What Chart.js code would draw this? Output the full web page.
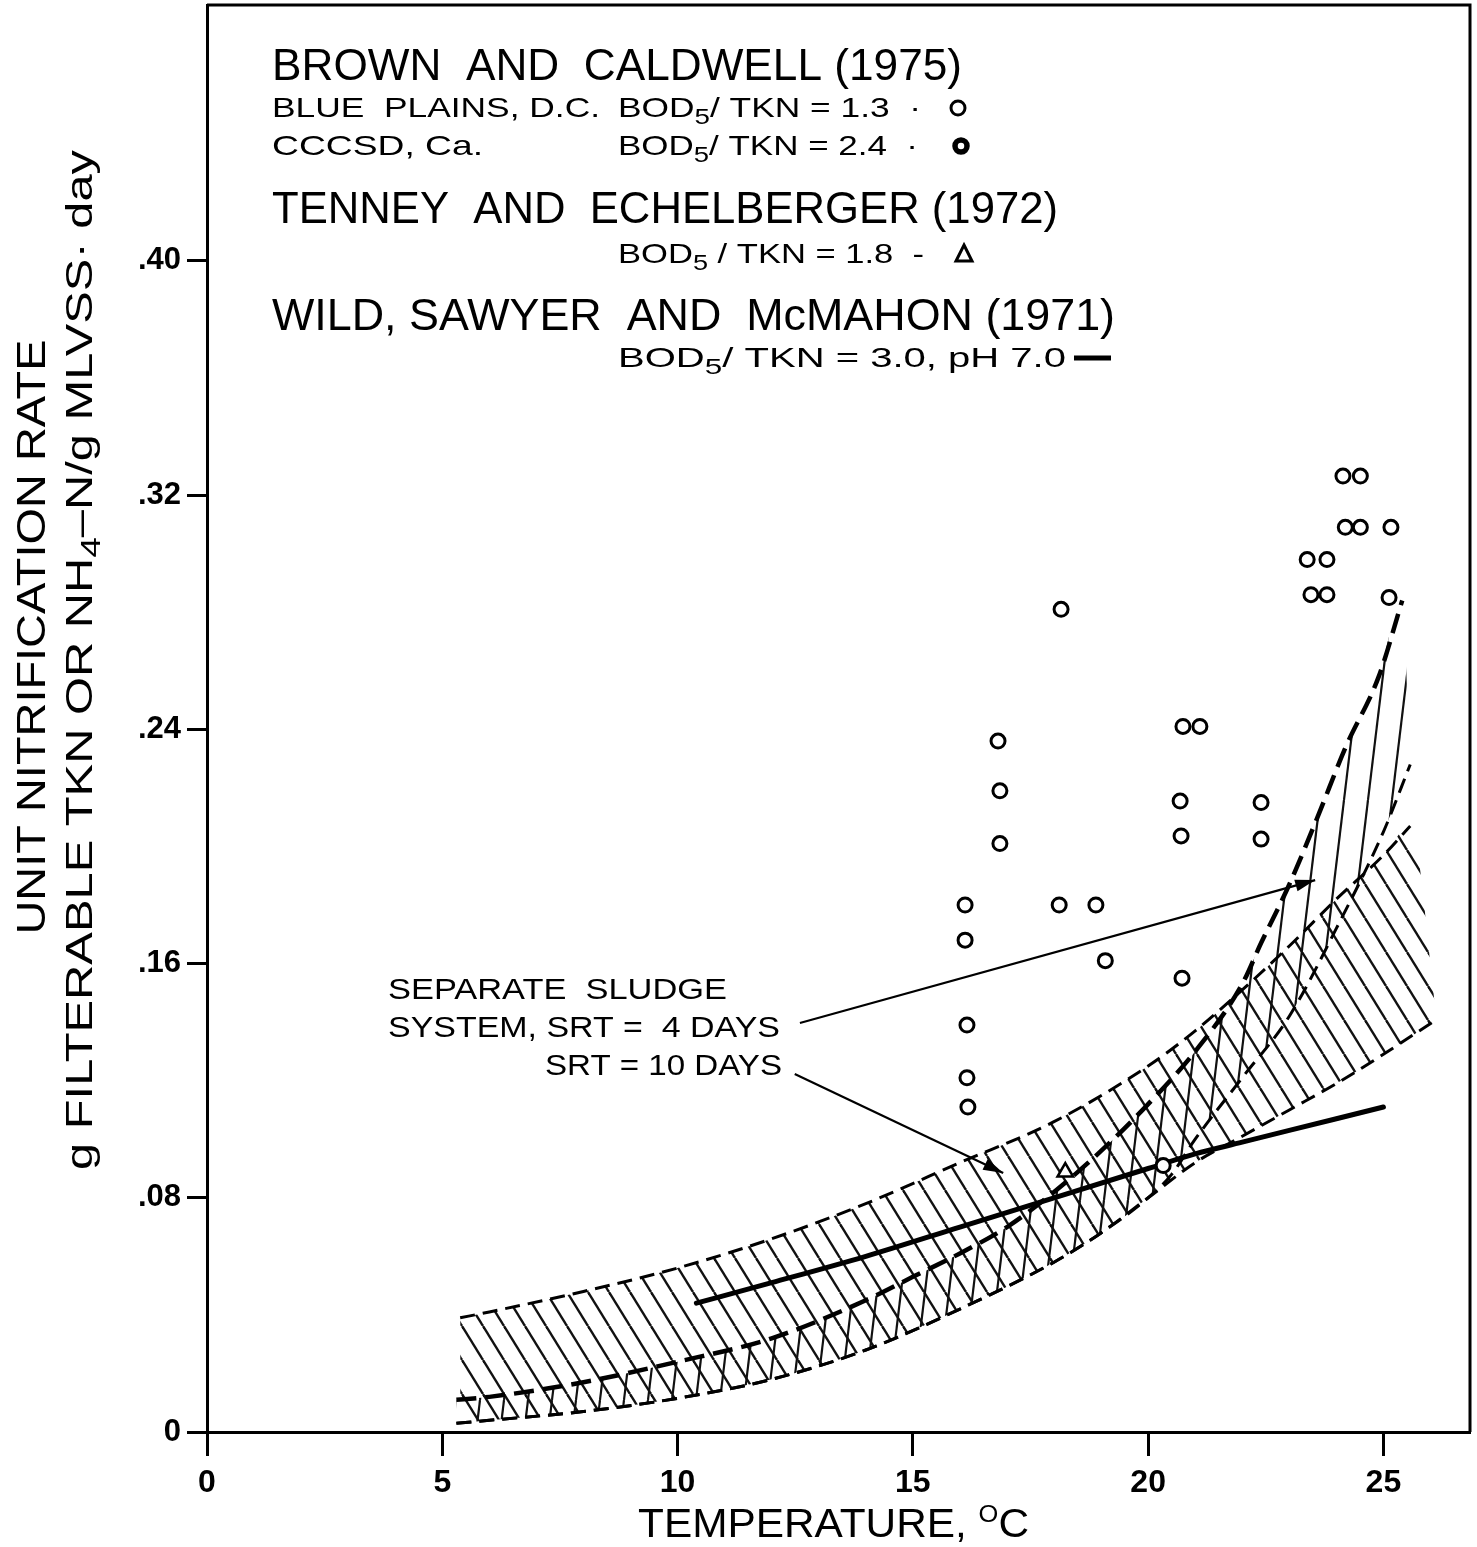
<!DOCTYPE html>
<html><head><meta charset="utf-8">
<script src="https://cdn.jsdelivr.net/npm/chart.js@4.4.1/dist/chart.umd.min.js"></script>
<style>html,body{margin:0;padding:0;background:#fff;}#wrap{width:1477px;height:1547px;position:relative;}</style>
</head><body><div id="wrap"><canvas id="c"></canvas></div>
<script>
// ---------- data ----------
const xTicks = [0, 5, 10, 15, 20, 25];
const yTicks = [0, 0.08, 0.16, 0.24, 0.32, 0.40];
const yTickLabels = ['0', '.08', '.16', '.24', '.32', '.40'];

// Brown and Caldwell (1975) – data points
const bluePlainsT    = [16.11,16.11,16.15,16.15,16.17,16.81,16.85,16.85,18.15,18.11,18.89,19.09,20.74,21.10,20.68,20.70,20.72,22.40,22.40,24.14,24.51,24.19,24.51,25.16,23.38,23.80,23.46,23.80,25.12,20.32];
const bluePlainsRate = [0.180,0.168,0.139,0.121,0.111,0.236,0.219,0.201,0.281,0.180,0.180,0.161,0.241,0.241,0.2155,0.2036,0.155,0.215,0.2025,0.3265,0.3265,0.309,0.309,0.309,0.298,0.298,0.286,0.286,0.285,0.091];

// Tenney and Echelberger (1972)
const tenneyT    = [18.24];
const tenneyRate = [0.0888];

// Wild, Sawyer and McMahon (1971)
const wildT    = [10.4, 12, 14, 16, 18, 20, 21, 22, 23, 24, 25];
const wildRate = [0.044, 0.051, 0.060, 0.070, 0.080, 0.090, 0.095, 0.099, 0.103, 0.107, 0.111];

// Separate sludge system, SRT = 10 days band
const srt10UpperT    = [5.38, 6, 8, 10, 12, 14, 16, 18, 20, 21, 22, 23, 24, 25, 25.57];
const srt10UpperRate = [0.039, 0.041, 0.048, 0.056, 0.066, 0.078, 0.092, 0.106, 0.125, 0.137, 0.151, 0.166, 0.182, 0.197, 0.207];
const srt10LowerT    = [5.3, 6, 8, 10, 12, 14, 16, 18, 19, 20, 21, 22, 23, 24, 25, 26.14];
const srt10LowerRate = [0.003, 0.004, 0.007, 0.0115, 0.018, 0.028, 0.042, 0.058, 0.068, 0.080, 0.092, 0.101, 0.110, 0.119, 0.129, 0.141];

// Separate sludge system, SRT = 4 days band
const srt4UpperT    = [5.3, 6, 8, 10, 12, 14, 15, 16, 17, 18, 19, 20, 21, 22, 22.4, 23, 23.6, 24.2, 24.9, 25.4];
const srt4UpperRate = [0.011, 0.012, 0.017, 0.024, 0.032, 0.045, 0.053, 0.061, 0.070, 0.082, 0.096, 0.112, 0.130, 0.153, 0.167, 0.187, 0.210, 0.234, 0.258, 0.284];
const srt4LowerT    = [5.3, 6, 8, 10, 12, 14, 16, 18, 19, 20, 20.5, 21, 22, 23, 24, 25, 25.57];
const srt4LowerRate = [0.003, 0.004, 0.007, 0.0115, 0.018, 0.028, 0.042, 0.058, 0.068, 0.080, 0.088, 0.100, 0.121, 0.142, 0.172, 0.205, 0.228];

// annotation pointers (data units)
const pointer4T     = [12.60, 23.55];
const pointer4Rate  = [0.1397, 0.1885];
const pointer10T    = [12.49, 16.92];
const pointer10Rate = [0.1223, 0.0885];

// ---------- helpers ----------
const FONT = '"Liberation Sans", Arial, Helvetica, sans-serif';
const pts = (t, v) => t.map((x, i) => ({x: x, y: v[i]}));

const canvas = document.getElementById('c');
const ctx0 = canvas.getContext('2d');
function hatch(w, h, dir, lw) {
  const c = document.createElement('canvas');
  c.width = w; c.height = h;
  const g = c.getContext('2d');
  g.strokeStyle = '#111'; g.lineWidth = lw;
  for (const o of [-w, 0, w]) {
    g.beginPath();
    if (dir > 0) { g.moveTo(o, 0); g.lineTo(o + w, h); }
    else { g.moveTo(o, h); g.lineTo(o + w, 0); }
    g.stroke();
  }
  return ctx0.createPattern(c, 'repeat');
}
const hatch10 = hatch(21, 34, 1, 2.4);
const hatch4 = hatch(24, 200, -1, 2.2);

function drawRuns(ctx, runs, x, y, targetW, opts) {
  opts = opts || {};
  ctx.save();
  let natural = 0;
  for (const r of runs) {
    ctx.font = (r.w || 'normal') + ' ' + r.size + 'px ' + FONT;
    r._w = ctx.measureText(r.t).width;
    natural += r._w;
  }
  const sx = targetW ? targetW / natural : 1;
  ctx.translate(x, y);
  if (opts.rotate) ctx.rotate(opts.rotate);
  ctx.scale(sx, 1);
  let cx = opts.center ? -natural / 2 : 0;
  ctx.fillStyle = '#000';
  ctx.textBaseline = 'alphabetic';
  ctx.textAlign = 'left';
  for (const r of runs) {
    ctx.font = (r.w || 'normal') + ' ' + r.size + 'px ' + FONT;
    ctx.fillText(r.t, cx, r.dy || 0);
    cx += r._w;
  }
  ctx.restore();
}
const bod = (rest) => [{t: 'BOD', size: 28}, {t: '5', size: 22, dy: 7}, {t: rest, size: 28}];

const decor = {
  id: 'decor',
  afterDatasetsDraw(chart) {
    const ctx = chart.ctx;
    for (const idx of [3, 4]) {
      const p = chart.getDatasetMeta(idx).data;
      const a = p[p.length - 2], b = p[p.length - 1];
      const ang = Math.atan2(b.y - a.y, b.x - a.x);
      ctx.save();
      ctx.translate(b.x, b.y); ctx.rotate(ang);
      ctx.beginPath(); ctx.moveTo(0, 0); ctx.lineTo(-20, -6); ctx.lineTo(-20, 6); ctx.closePath();
      ctx.fillStyle = '#000'; ctx.fill();
      ctx.restore();
    }
  },
  afterDraw(chart) {
    const ctx = chart.ctx;
    const a = chart.chartArea;
    ctx.save();
    ctx.strokeStyle = '#000'; ctx.lineWidth = 3;
    ctx.beginPath(); ctx.moveTo(a.left, a.top); ctx.lineTo(a.right, a.top); ctx.lineTo(a.right, a.bottom); ctx.stroke();
    ctx.restore();

    // legend block
    drawRuns(ctx, [{t: 'BROWN  AND  CALDWELL (1975)', size: 44}], 272, 80, 690);
    drawRuns(ctx, [{t: 'BLUE  PLAINS, D.C.', size: 28}], 272, 117, 328);
    drawRuns(ctx, bod('/ TKN = 1.3  ·'), 618, 117, 303);
    drawRuns(ctx, [{t: 'CCCSD, Ca.', size: 28}], 272, 155, 211);
    drawRuns(ctx, bod('/ TKN = 2.4  ·'), 618, 155, 300);
    drawRuns(ctx, [{t: 'TENNEY  AND  ECHELBERGER (1972)', size: 44}], 272, 223, 786);
    drawRuns(ctx, bod(' / TKN = 1.8  -'), 618, 263, 306);
    drawRuns(ctx, [{t: 'WILD, SAWYER  AND  McMAHON (1971)', size: 44}], 272, 330, 843);
    drawRuns(ctx, bod('/ TKN = 3.0, pH 7.0'), 618, 367, 448);
    ctx.save();
    ctx.strokeStyle = '#000';
    ctx.lineWidth = 3; ctx.beginPath(); ctx.arc(958, 108, 7, 0, Math.PI * 2); ctx.stroke();
    ctx.lineWidth = 5.5; ctx.beginPath(); ctx.arc(961, 146, 6, 0, Math.PI * 2); ctx.stroke();
    ctx.lineWidth = 3; ctx.beginPath(); ctx.moveTo(964, 245); ctx.lineTo(972, 261); ctx.lineTo(956, 261); ctx.closePath(); ctx.stroke();
    ctx.lineWidth = 5; ctx.beginPath(); ctx.moveTo(1074, 358); ctx.lineTo(1111, 358); ctx.stroke();
    ctx.restore();

    // band annotation
    drawRuns(ctx, [{t: 'SEPARATE  SLUDGE', size: 29}], 388, 999, 339);
    drawRuns(ctx, [{t: 'SYSTEM, SRT =  4 DAYS', size: 29}], 388, 1037, 392);
    drawRuns(ctx, [{t: 'SRT = 10 DAYS', size: 29}], 545, 1075, 237);

    // axis titles
    drawRuns(ctx, [{t: 'TEMPERATURE, ', size: 40}, {t: 'O', size: 24, dy: -15}, {t: 'C', size: 40}], 638, 1537, 391);
    drawRuns(ctx, [{t: 'UNIT NITRIFICATION RATE', size: 40}], 45, 637, 595, {rotate: -Math.PI / 2, center: true});
    drawRuns(ctx, [{t: 'g FILTERABLE TKN OR NH', size: 36}, {t: '4', size: 27, dy: 8}, {t: '\u2013N/g MLVSS\u00b7 day', size: 36}], 92, 660, 1020, {rotate: -Math.PI / 2, center: true});
  }
};

const lineBase = {type: 'line', borderColor: '#000', pointRadius: 0, pointHoverRadius: 0, fill: false, cubicInterpolationMode: 'monotone'};

new Chart(canvas, {
  type: 'scatter',
  data: {
    datasets: [
      {label: 'Blue Plains', data: pts(bluePlainsT, bluePlainsRate), pointStyle: 'circle', pointRadius: 7, pointHoverRadius: 7,
       pointBorderWidth: 3, pointBorderColor: '#000', pointBackgroundColor: '#fff', borderColor: '#000', backgroundColor: '#fff'},
      {label: 'Tenney', data: pts(tenneyT, tenneyRate), pointStyle: 'triangle', pointRadius: 9, pointHoverRadius: 9,
       pointBorderWidth: 2.5, pointBorderColor: '#000', pointBackgroundColor: '#fff', borderColor: '#000', backgroundColor: '#fff'},
      Object.assign({}, lineBase, {label: 'Wild', data: pts(wildT, wildRate), borderWidth: 5, borderCapStyle: 'round'}),
      Object.assign({}, lineBase, {label: 'ptr4', data: pts(pointer4T, pointer4Rate), borderWidth: 2.2, cubicInterpolationMode: 'default'}),
      Object.assign({}, lineBase, {label: 'ptr10', data: pts(pointer10T, pointer10Rate), borderWidth: 2.2, cubicInterpolationMode: 'default'}),
      Object.assign({}, lineBase, {label: 'SRT4 upper', data: pts(srt4UpperT, srt4UpperRate), borderWidth: 4.5, borderDash: [20, 9]}),
      Object.assign({}, lineBase, {label: 'SRT4 lower', data: pts(srt4LowerT, srt4LowerRate), borderWidth: 3, borderDash: [15, 8]}),
      Object.assign({}, lineBase, {label: 'SRT10 upper', data: pts(srt10UpperT, srt10UpperRate), borderWidth: 3, borderDash: [15, 8]}),
      Object.assign({}, lineBase, {label: 'SRT10 lower', data: pts(srt10LowerT, srt10LowerRate), borderWidth: 3, borderDash: [15, 8]}),
      Object.assign({}, lineBase, {label: 'SRT4 band',
        data: pts(srt4UpperT.concat(srt4LowerT.slice(-1)), srt4UpperRate.concat(srt4LowerRate.slice(-1))),
        borderWidth: 0, borderColor: 'rgba(0,0,0,0)', fill: 6, backgroundColor: hatch4}),
      Object.assign({}, lineBase, {label: 'SRT10 band',
        data: pts(srt10UpperT.concat(srt10LowerT.slice(-1)), srt10UpperRate.concat(srt10LowerRate.slice(-1))),
        borderWidth: 0, borderColor: 'rgba(0,0,0,0)', fill: 8, backgroundColor: hatch10})
    ]
  },
  options: {
    responsive: true, maintainAspectRatio: false, animation: false, devicePixelRatio: 1,
    layout: {autoPadding: false, padding: {top: 5, right: 7, left: 0, bottom: 0}},
    plugins: {legend: {display: false}, tooltip: {enabled: false}},
    events: [],
    scales: {
      x: {
        type: 'linear', min: 0, max: 26.84,
        afterBuildTicks: s => { s.ticks = xTicks.map(v => ({value: v})); },
        afterFit: s => { s.height = 115; s.paddingLeft = 0; s.paddingRight = 0; },
        ticks: {color: '#000', padding: 8, maxRotation: 0, autoSkip: false, font: {family: FONT, size: 32, weight: 'bold'}, callback: v => String(v)},
        grid: {display: true, drawOnChartArea: false, drawTicks: true, tickLength: 24, tickWidth: 3, tickColor: '#000', color: '#000'},
        border: {display: true, color: '#000', width: 3}
      },
      y: {
        type: 'linear', min: 0, max: 0.4874,
        afterBuildTicks: s => { s.ticks = yTicks.map(v => ({value: v})); },
        afterFit: s => { s.width = 207; s.paddingTop = 0; s.paddingBottom = 0; },
        ticks: {color: '#000', padding: 6, autoSkip: false, font: {family: FONT, size: 31, weight: 'bold'},
          callback: (v, i) => yTickLabels[i]},
        grid: {display: true, drawOnChartArea: false, drawTicks: true, tickLength: 20, tickWidth: 3, tickColor: '#000', color: '#000'},
        border: {display: true, color: '#000', width: 3}
      }
    }
  },
  plugins: [decor]
});
</script></body></html>
